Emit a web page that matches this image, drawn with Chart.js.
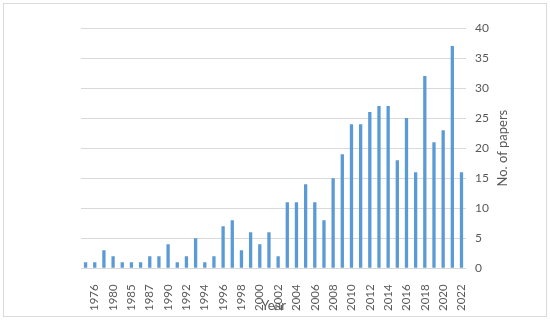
<!DOCTYPE html>
<html>
<head>
<meta charset="utf-8">
<script src="https://cdn.jsdelivr.net/npm/chart.js@4"></script>
<style>
  html, body { margin: 0; padding: 0; background: #ffffff; }
  #wrap { position: relative; width: 550px; height: 320px; }
  #frame { position: absolute; left: 3px; top: 3px; width: 542px; height: 312px; border: 1px solid #d9d9d9; box-sizing: content-box; pointer-events: none; }
  canvas { position: absolute; left: 0; top: 0; }
</style>
</head>
<body>
<div id="wrap">
  <canvas id="c" width="550" height="320"></canvas>
  <div id="frame"></div>
</div>
<script>
// Categories (years); only every other label is shown in the reference
const years = ['1975','1976','1978','1980','1983','1985','1986','1987','1989','1990','1991',
  '1992','1993','1994','1995','1996','1997','1998','1999','2000','2001','2002','2003','2004',
  '2005','2006','2007','2008','2009','2010','2011','2012','2013','2014','2015','2016','2017',
  '2018','2019','2020','2021','2022'];
// No. of papers per year
const papers = [1,1,3,2,1,1,1,2,2,4,1,2,5,1,2,7,8,3,6,4,6,2,11,11,14,11,8,15,19,24,24,26,27,27,18,25,16,32,21,23,37,16];
// Y axis ticks
const yMin = 0, yMax = 40, yStep = 5;
const xTitle = 'Year';
const yTitle = 'No. of papers';

const FONT = 'Lato, "Open Sans", sans-serif';
const TXT = '#595959';

const titlePlugin = {
  id: 'axisTitles',
  afterDraw(chart) {
    const { ctx, chartArea: a } = chart;
    ctx.save();
    ctx.fillStyle = TXT;
    ctx.font = '13px ' + FONT;
    ctx.textAlign = 'center';
    ctx.textBaseline = 'middle';
    ctx.fillText(xTitle, (a.left + a.right) / 2, a.bottom + 37);
    ctx.translate(a.right + 37, (a.top + a.bottom) / 2);
    ctx.rotate(-Math.PI / 2);
    ctx.fillText(yTitle, 0, 0);
    ctx.restore();
  }
};

new Chart(document.getElementById('c'), {
  type: 'bar',
  data: {
    labels: years,
    datasets: [{
      data: papers,
      backgroundColor: '#5b9bd5',
      borderWidth: 0,
      barPercentage: 0.36,
      categoryPercentage: 1.0
    }]
  },
  options: {
    responsive: false,
    animation: false,
    plugins: { legend: { display: false }, tooltip: { enabled: false } },
    layout: { padding: { left: 81, right: 52, top: 28, bottom: 1 } },
    scales: {
      x: {
        grid: { display: false },
        border: { display: false },
        ticks: {
          autoSkip: false,
          maxRotation: 90,
          minRotation: 90,
          padding: 8,
          color: TXT,
          font: { family: FONT, size: 11.5 },
          callback: function (v, i) { return i % 2 === 1 ? years[i] : ''; }
        }
      },
      y: {
        position: 'right',
        min: yMin,
        max: yMax,
        grid: { color: '#d9d9d9', drawTicks: false, lineWidth: 1 },
        border: { display: false },
        ticks: {
          stepSize: yStep,
          padding: 9,
          color: TXT,
          font: { family: FONT, size: 12 }
        }
      }
    }
  },
  plugins: [titlePlugin]
});
</script>
</body>
</html>
